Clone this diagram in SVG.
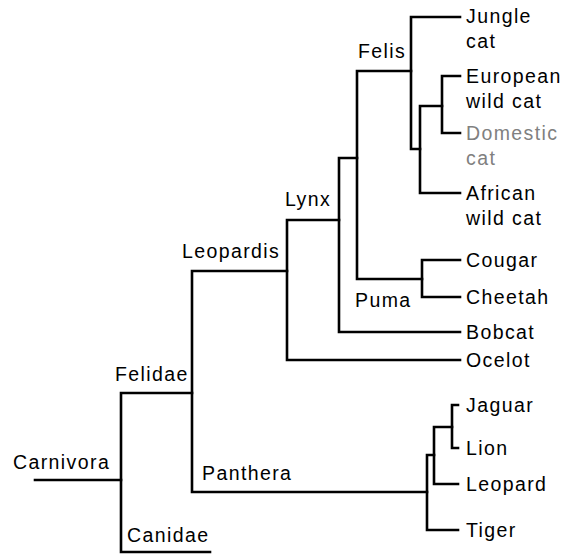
<svg xmlns="http://www.w3.org/2000/svg" width="569" height="556" viewBox="0 0 569 556">
<style>
.t{font-family:"Liberation Sans",Arial,sans-serif;font-size:19.5px;letter-spacing:1.4px;fill:#000}
.g{fill:#808080}
.e{fill:none;stroke:#000;stroke-width:2.6;stroke-linecap:square;stroke-linejoin:miter}
</style>
<rect width="569" height="556" fill="#fff"/>
<g id="connectors" class="e">
<path d="M35,480 H121"/>
<path d="M192,393 H121 V552 H210"/>
<path d="M287,271 H192 V492 H427"/>
<path d="M339,220 H287 V360 H460"/>
<path d="M357,158 H339 V332 H460"/>
<path d="M411,71 H357 V279 H422"/>
<path d="M460,17 H411 V149 H420"/>
<path d="M442,106 H420 V193 H460"/>
<path d="M460,76 H442 V133 H460"/>
<path d="M460,260 H422 V297 H460"/>
<path d="M434,455 H427 V530 H458"/>
<path d="M452,427 H434 V484 H458"/>
<path d="M458,405 H452 V448 H458"/>
</g>
<g id="carnivora"><text class="t" x="13" y="469">Carnivora</text></g>
<g id="felidae"><text class="t" x="115" y="381">Felidae</text></g>
<g id="canidae"><text class="t" x="127" y="542">Canidae</text></g>
<g id="panthera"><text class="t" x="202" y="480">Panthera</text></g>
<g id="leopardis"><text class="t" x="182" y="258">Leopardis</text></g>
<g id="lynx"><text class="t" x="285" y="206">Lynx</text></g>
<g id="felis"><text class="t" x="358" y="58">Felis</text></g>
<g id="puma"><text class="t" x="355" y="307">Puma</text></g>
<g id="jungle-cat"><text class="t" x="466" y="23">Jungle</text><text class="t" x="466" y="48">cat</text></g>
<g id="european-wild-cat"><text class="t" x="466" y="83">European</text><text class="t" x="466" y="108">wild cat</text></g>
<g id="domestic-cat"><text class="t g" x="466" y="140">Domestic</text><text class="t g" x="466" y="165">cat</text></g>
<g id="african-wild-cat"><text class="t" x="466" y="200">African</text><text class="t" x="466" y="225">wild cat</text></g>
<g id="cougar"><text class="t" x="466" y="267">Cougar</text></g>
<g id="cheetah"><text class="t" x="466" y="304">Cheetah</text></g>
<g id="bobcat"><text class="t" x="466" y="339">Bobcat</text></g>
<g id="ocelot"><text class="t" x="466" y="367">Ocelot</text></g>
<g id="jaguar"><text class="t" x="466" y="412">Jaguar</text></g>
<g id="lion"><text class="t" x="466" y="455">Lion</text></g>
<g id="leopard"><text class="t" x="466" y="491">Leopard</text></g>
<g id="tiger"><text class="t" x="466" y="537">Tiger</text></g>
</svg>
